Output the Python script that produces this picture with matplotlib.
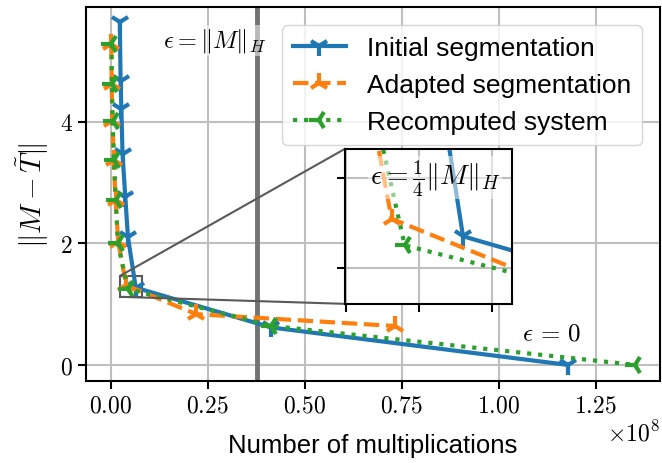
import numpy as np
import matplotlib
matplotlib.use("Agg")
import matplotlib.pyplot as plt
from mpl_toolkits.axes_grid1.inset_locator import mark_inset

plt.rcParams['font.family'] = ['Liberation Sans', 'DejaVu Sans']
plt.rcParams['mathtext.fontset'] = 'cm'
plt.rcParams['axes.formatter.use_mathtext'] = True

# Datos
mult_init = [2.4e6, 2.6e6, 2.8e6, 3.1e6, 3.8e6, 4.5e6, 6.5e6, 41.4e6, 117.8e6]
err_init = [5.64, 4.67, 4.21, 3.47, 2.77, 2.10, 1.27, 0.616, 0.0]

mult_adapt = [0.2e6, 0.3e6, 0.5e6, 0.85e6, 1.3e6, 2.0e6, 4.05e6, 22.1e6, 73.2e6]
err_adapt = [5.28, 4.62, 4.01, 3.37, 2.71, 2.02, 1.309, 0.835, 0.64]

mult_recomp = [0.25e6, 0.35e6, 0.55e6, 0.9e6, 1.35e6, 1.9e6, 4.5e6, 41.4e6, 135.2e6]
err_recomp = [5.28, 4.62, 4.01, 3.37, 2.71, 2.00, 1.25, 0.642, 0.0]

umbral = 37.8e6

fig = plt.figure(figsize=(6.62, 4.64), dpi=100)
ax = fig.add_axes([0.130, 0.177, 0.867, 0.806])

def dibujar(a, ms=14):
    a.plot(mult_init, err_init, '-', marker='1', color='tab:blue', lw=3, ms=ms, mew=3,
           label="Initial segmentation")
    a.plot(mult_adapt, err_adapt, '--', marker='2', color='tab:orange', lw=3, ms=ms, mew=3,
           label="Adapted segmentation")
    a.plot(mult_recomp, err_recomp, ':', marker='3', color='tab:green', lw=3, ms=ms, mew=3,
           label="Recomputed system")
    a.axvline(umbral, color='0.45', lw=3.5, zorder=1.8)
    a.grid(color='0.75', lw=1.5)

dibujar(ax)
ax.set_xlim(-6.3e6, 141.6e6)
ax.set_ylim(-0.263, 5.89)
ax.set_xticks([0, 0.25e8, 0.5e8, 0.75e8, 1.0e8, 1.25e8])
ax.set_yticks([0, 2, 4])
ax.tick_params(labelsize=17, labelfontfamily='cmr10', width=1.5, length=6)
ax.xaxis.get_offset_text().set_fontfamily('cmr10')
ax.xaxis.get_offset_text().set_fontsize(17)
for s in ax.spines.values():
    s.set_linewidth(1.5)

ax.set_xlabel("Number of multiplications", fontsize=18.5, labelpad=12)
ax.set_ylabel(r"$\|M - \tilde{T}\|$", fontsize=21, labelpad=6)

ax.text(13.4e6, 5.34, r"$\epsilon = \|M\|_H$", fontsize=17.5, va='center',
        bbox=dict(facecolor='white', edgecolor='none', alpha=0.5, pad=1))
ax.text(106e6, 0.54, r"$\epsilon\,=\,0$", fontsize=18, va='center')

ax.legend(loc='upper right', fontsize=19, handlelength=2.0, framealpha=0.8,
          borderaxespad=0.7)

# Zoom
axins = fig.add_axes([0.521, 0.343, 0.252, 0.334])
dibujar(axins)
axins.set_xlim(2.45e6, 8.17e6)
axins.set_ylim(1.12, 1.464)
axins.set_xticks([2.5e6, 5e6, 7.5e6])
axins.set_yticks([1.2, 1.4])
axins.tick_params(labelbottom=False, labelleft=False, width=1.5, length=6)
for s in axins.spines.values():
    s.set_linewidth(1.5)
axins.text(3.3e6, 1.40, r"$\epsilon = \frac{1}{4}\|M\|_H$", fontsize=20, va='center',
           bbox=dict(facecolor='white', edgecolor='none', alpha=0.5, pad=1))
mark_inset(ax, axins, loc1=2, loc2=3, fc='none', ec='0.35', lw=1.5)

plt.savefig("out.png", dpi=100)
